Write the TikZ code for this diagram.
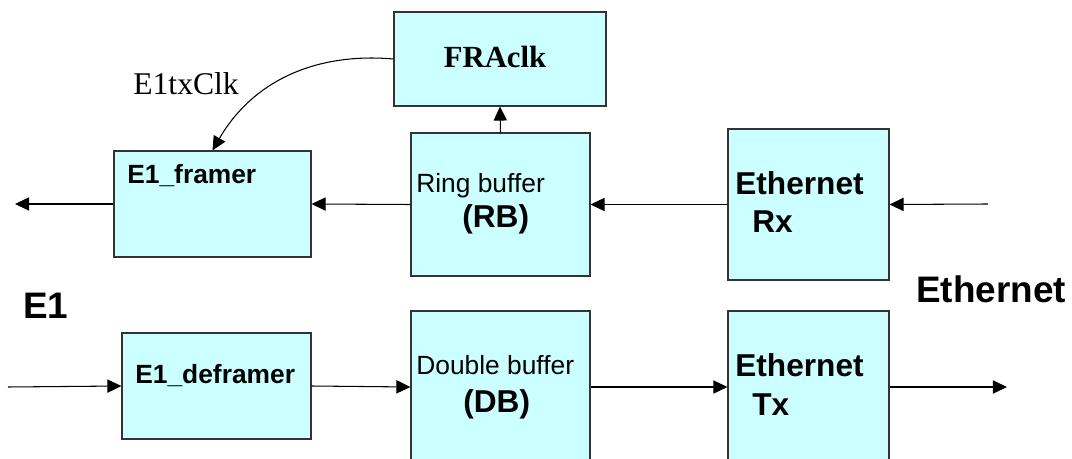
\documentclass[tikz,border=0pt]{standalone}
\usepackage{fontspec}
\setmainfont{Liberation Sans}
\newfontfamily\timesfont{Liberation Serif}
\usetikzlibrary{arrows.meta,fit}
\definecolor{boxfill}{HTML}{CCFFFF}
\tikzstyle{blk}=[draw=black!80, fill=boxfill, line width=0.6pt, inner sep=0pt]
\tikzstyle{txt}=[inner sep=0pt, anchor=base west]
\tikzstyle{link}=[draw=black, line width=0.6pt, -{Triangle[length=8pt,width=7.5pt]}]
\newcommand{\bigbf}{\bfseries\fontsize{18}{20}\selectfont}
\newcommand{\midrm}{\fontsize{15}{18}\selectfont}

\begin{document}
\begin{tikzpicture}[x=0.02cm,y=-0.02cm]
\useasboundingbox (0,0) rectangle (1072,459);
\clip (0,0) rectangle (1072,459);
% blocks
\node[blk, fit={(394,12) (606,106)}] (fra) {};
\node[blk, fit={(114,151) (311,257)}] (framer) {};
\node[blk, fit={(411,133) (590,276)}] (rb) {};
\node[blk, fit={(728,129) (889,280)}] (rx) {};
\node[blk, fit={(122,333) (311,439)}] (deframer) {};
\node[blk, fit={(411,311) (590,463)}] (db) {};
\node[blk, fit={(728,311) (889,463)}] (tx) {};
% block texts
\node[inner sep=0pt, anchor=base] (fratxt) at (495,68) {\timesfont\bfseries\fontsize{17.5}{20}\selectfont FRAclk};
\node[txt] (framertxt) at (127,184) {\bfseries\fontsize{15}{18}\selectfont E1\_framer};
\node[txt] (deframertxt) at (135,383) {\bfseries\fontsize{15}{18}\selectfont E1\_deframer};
\node[txt] (rbtxt) at (416,193) {\midrm Ring buffer};
\node[txt] (rbabbr) at (462,228) {\bigbf (RB)};
\node[txt] (dbtxt) at (416,375) {\midrm Double buffer};
\node[txt] (dbabbr) at (463,412) {\bigbf (DB)};
\node[txt] (rxtxt) at (735,195) {\bigbf Ethernet};
\node[txt] (rxabbr) at (752,233) {\bigbf Rx};
\node[txt] (txtxt) at (735,377) {\bigbf Ethernet};
\node[txt] (txabbr) at (752,415) {\bigbf Tx};
% side labels
\node[txt] (e1lbl) at (23,318) {\bfseries\fontsize{21}{24}\selectfont E1};
\node[txt] (ethlbl) at (916,302) {\bfseries\fontsize{21}{24}\selectfont Ethernet};
\node[txt] (clklbl) at (133,95) {\timesfont\fontsize{18}{20}\selectfont E1txClk};
% free ends
\coordinate (e1out) at (15,204);
\coordinate (e1in) at (8,387);
\coordinate (ethin) at (988,204);
\coordinate (ethout) at (1007,387);
% receive path
\draw[link] (ethin) -- (rx.east);
\draw[link] (rx.west) -- (rb.east);
\draw[link] (rb.west) -- (framer.east);
\draw[link] (framer.west) -- (e1out);
\draw[link] (rb.north) -- (fra.south);
\draw[link] (fra.west) to[out=175,in=60] (framer.north);
% transmit path
\draw[link] (e1in) -- (deframer.west);
\draw[link] (deframer.east) -- (db.west);
\draw[link] (db.east) -- (tx.west);
\draw[link] (tx.east) -- (ethout);
\end{tikzpicture}
\end{document}
